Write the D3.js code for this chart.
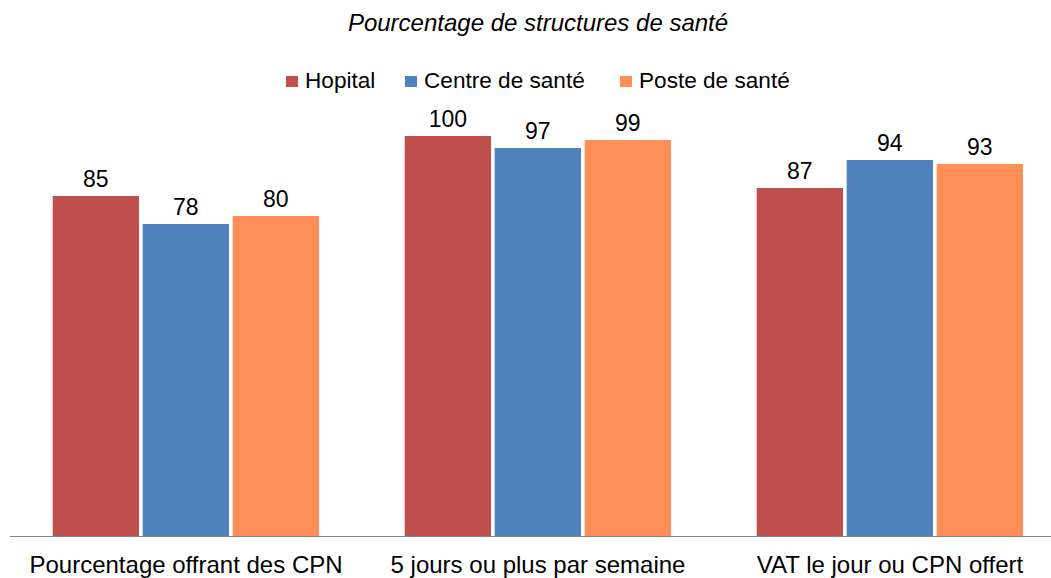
<!DOCTYPE html>
<html><head><meta charset="utf-8">
<script src="https://cdn.jsdelivr.net/npm/d3@7"></script>
<style>body{margin:0;background:#fff}svg{display:block;font-family:"Liberation Sans",Arial,sans-serif}</style>
</head><body><svg id="c" width="1051" height="578"></svg>
<script>
const categories = ["Pourcentage offrant des CPN", "5 jours ou plus par semaine", "VAT le jour ou CPN offert"];
const seriesNames = ["Hopital", "Centre de santé", "Poste de santé"];
const hopital = [85, 100, 87];
const centre = [78, 97, 94];
const poste = [80, 99, 93];
const colors = ["#C0504D", "#4F81BD", "#FF8F59"];
const title = "Pourcentage de structures de santé";

const series = [hopital, centre, poste];
const svg = d3.select("#c");
const base = 536, top100 = 136;
const x0 = d3.scaleBand().domain(categories).range([10, 1066]).paddingInner(0).paddingOuter(0);
const groupW = 270;
const x1 = d3.scaleBand().domain(seriesNames).range([0, groupW]).padding(0);
const y = d3.scaleLinear().domain([0, 100]).range([base, top100]);

svg.append("text").attr("x", 538).attr("y", 31).attr("text-anchor", "middle")
  .attr("font-size", 24).attr("font-style", "italic").attr("fill", "#000").text(title);

// legend
const legX = [286, 405, 620];
seriesNames.forEach((n, i) => {
  const g = svg.append("g").attr("transform", `translate(${legX[i]},0)`);
  g.append("rect").attr("x", 0).attr("y", 76).attr("width", 12).attr("height", 11).attr("fill", colors[i]);
  g.append("text").attr("x", 19).attr("y", 88).attr("font-size", 22.6).attr("fill", "#000").text(n);
});

const gap = 3.7;
categories.forEach((c, ci) => {
  const gx = x0(c) + 42.7;
  seriesNames.forEach((s, si) => {
    const v = series[si][ci];
    const bx = gx + x1(s);
    const bw = x1.bandwidth() - gap;
    svg.append("rect").attr("x", bx).attr("y", y(v)).attr("width", bw).attr("height", base - y(v)).attr("fill", colors[si]);
    svg.append("text").attr("x", bx + bw / 2).attr("y", y(v) - 9).attr("text-anchor", "middle")
      .attr("font-size", 23).attr("fill", "#000").text(v);
  });
});

svg.append("line").attr("x1", 10).attr("x2", 1051).attr("y1", base + 0.5).attr("y2", base + 0.5)
  .attr("stroke", "#868686").attr("stroke-width", 1);

const axis = d3.axisBottom(x0).tickSize(0).tickPadding(0);
const ag = svg.append("g").attr("transform", `translate(0,${base})`).call(axis);
ag.select(".domain").remove();
ag.selectAll("text").attr("font-size", 24).attr("font-family", "Liberation Sans, Arial, sans-serif")
  .attr("fill", "#000").attr("dy", null).attr("y", 37);
</script></body></html>
